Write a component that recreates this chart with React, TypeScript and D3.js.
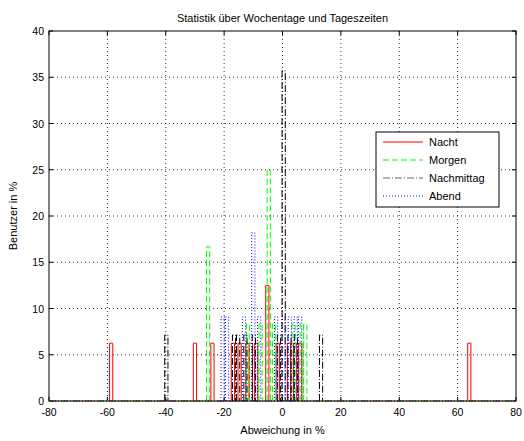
import React from "react";
import * as d3 from "d3";

const TITLE = "Statistik über Wochentage und Tageszeiten";
const XLABEL = "Abweichung in %";
const YLABEL = "Benutzer in %";
const xTicks = [-80, -60, -40, -20, 0, 20, 40, 60, 80];
const yTicks = [0, 5, 10, 15, 20, 25, 30, 35, 40];

// Nacht (16 users -> 6.25 % each)
const nachtX = [-58.7, -30, -24, -17, -14.7, -12, -10.8, -9, -5.2, -1.6, 2.2, 4.3, 6.1, 64];
const nachtY = [6.25, 6.25, 6.25, 6.25, 6.25, 6.25, 6.25, 6.25, 12.5, 6.25, 6.25, 6.25, 6.25, 6.25];
// Morgen (12 users -> 8.33 % each)
const morgenX = [-25.5, -11.8, -7.5, -4.7, -2.9, 3.8, 6.6, 7.8];
const morgenY = [16.67, 8.33, 8.33, 25, 8.33, 8.33, 8.33, 8.33];
// Nachmittag (14 users -> 7.14 % each)
const nachmX = [-39.8, -16.6, -15.2, -12.7, -9.8, -1.2, 0.4, 2.4, 4.6, 13.2];
const nachmY = [7.14, 7.14, 7.14, 7.14, 7.14, 7.14, 35.71, 7.14, 7.14, 7.14];
// Abend (11 users -> 9.09 % each)
const abendX = [-20.5, -19, -13.2, -10, -8, -2.2, 0.3, 2.5, 4.5, 6];
const abendY = [9.09, 9.09, 9.09, 18.18, 9.09, 9.09, 9.09, 9.09, 9.09, 9.09];

const seriesNames = ["Nacht", "Morgen", "Nachmittag", "Abend"];
const seriesColors = ["#ff0000", "#00ff00", "#000000", "#0000ff"];
const seriesDash = ["none", "6,3", "7,2,1,2", "1,2"];

const W = 524;
const H = 441;
const left = 49, right = 516, top = 31, bottom = 401;

export default function App() {
  const x = d3.scaleLinear().domain([-80, 80]).range([left, right]);
  const y = d3.scaleLinear().domain([0, 40]).range([bottom, top]);
  const bw = 1.1;
  const allX = [nachtX, morgenX, nachmX, abendX];
  const allY = [nachtY, morgenY, nachmY, abendY];

  const barPath = (xs: number[], ys: number[]) => {
    const p = d3.path();
    xs.forEach((v, i) => {
      const x0 = x(v - bw / 2);
      const x1 = x(v + bw / 2);
      p.moveTo(x0, y(0));
      p.lineTo(x0, y(ys[i]));
      p.lineTo(x1, y(ys[i]));
      p.lineTo(x1, y(0));
    });
    return p.toString();
  };

  const font = "'Liberation Sans', Arial, Helvetica, sans-serif";
  const legX = 376, legY = 132, legW = 123, legH = 75;

  return (
    <svg width={W} height={H} style={{ position: "absolute", left: 0, top: 0, background: "#fff" }} fontFamily={font}>
      <rect x={0} y={0} width={W} height={H} fill="#fff" />
      {/* grid */}
      {xTicks.slice(1, -1).map((t) => (
        <line key={"gx" + t} x1={x(t)} x2={x(t)} y1={top} y2={bottom} stroke="#000" strokeWidth={1} strokeDasharray="1,3" opacity={0.8} />
      ))}
      {yTicks.slice(1, -1).map((t) => (
        <line key={"gy" + t} x1={left} x2={right} y1={y(t)} y2={y(t)} stroke="#000" strokeWidth={1} strokeDasharray="1,3" opacity={0.8} />
      ))}
      {/* box */}
      <rect x={left} y={top} width={right - left} height={bottom - top} fill="none" stroke="#000" strokeWidth={1} />
      {/* ticks */}
      {xTicks.map((t) => (
        <g key={"tx" + t}>
          <line x1={x(t)} x2={x(t)} y1={bottom} y2={bottom - 4} stroke="#000" />
          <line x1={x(t)} x2={x(t)} y1={top} y2={top + 4} stroke="#000" />
          <text x={x(t)} y={bottom + 15} fontSize={10.5} textAnchor="middle">{t}</text>
        </g>
      ))}
      {yTicks.map((t) => (
        <g key={"ty" + t}>
          <line x1={left} x2={left + 4} y1={y(t)} y2={y(t)} stroke="#000" />
          <line x1={right} x2={right - 4} y1={y(t)} y2={y(t)} stroke="#000" />
          <text x={left - 5} y={y(t) + 4} fontSize={10.5} textAnchor="end">{t}</text>
        </g>
      ))}
      {/* series */}
      {allX.map((xs, i) => (
        <g key={"s" + i}>
          <line x1={left} x2={right} y1={y(0)} y2={y(0)} stroke={seriesColors[i]} strokeDasharray={seriesDash[i]} strokeWidth={1} opacity={0.6} />
          <path d={barPath(xs, allY[i])} fill="none" stroke={seriesColors[i]} strokeWidth={1} strokeDasharray={seriesDash[i]} />
        </g>
      ))}
      {/* labels */}
      <text x={(left + right) / 2} y={22} fontSize={11} textAnchor="middle">{TITLE}</text>
      <text x={(left + right) / 2} y={434} fontSize={11} textAnchor="middle">{XLABEL}</text>
      <text transform={`translate(17,${(top + bottom) / 2}) rotate(-90)`} fontSize={11} textAnchor="middle">{YLABEL}</text>
      {/* legend */}
      <rect x={legX} y={legY} width={legW} height={legH} fill="#fff" stroke="#000" strokeWidth={1} />
      {seriesNames.map((n, i) => {
        const ly = legY + 10 + i * 18;
        return (
          <g key={"l" + n}>
            <line x1={legX + 7} x2={legX + 47} y1={ly} y2={ly} stroke={seriesColors[i]} strokeDasharray={seriesDash[i]} strokeWidth={1} opacity={i === 2 ? 0.6 : 1} />
            <text x={legX + 53} y={ly + 4} fontSize={11}>{n}</text>
          </g>
        );
      })}
    </svg>
  );
}
